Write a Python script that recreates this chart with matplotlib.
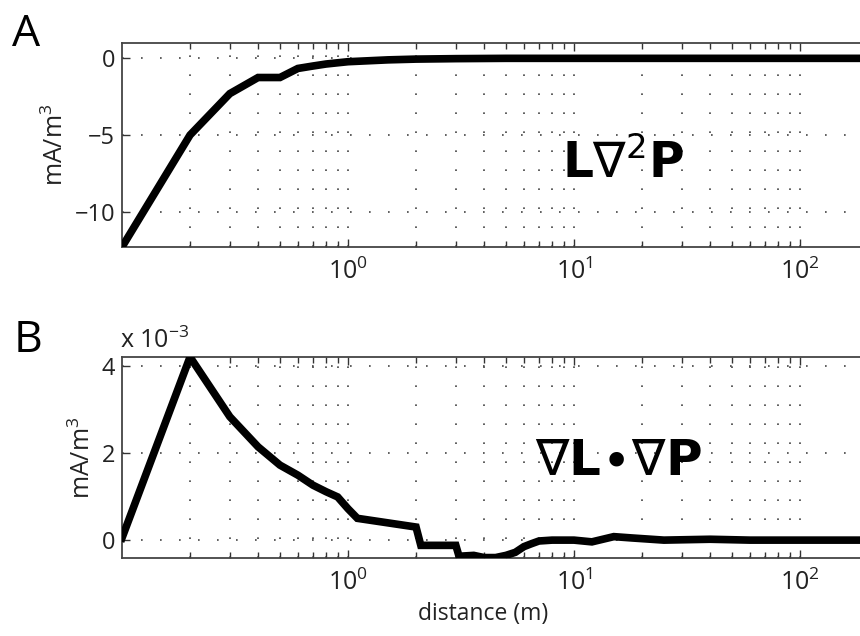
import matplotlib
matplotlib.use("Agg")
import matplotlib.pyplot as plt
from matplotlib.ticker import FixedLocator, LogFormatterSciNotation, NullFormatter

plt.rcParams['font.family'] = ['Open Sans', 'DejaVu Sans']
plt.rcParams['mathtext.fontset'] = 'dejavusans'

# panel A: L * laplacian(P)
xa = [0.1, 0.2, 0.3, 0.4, 0.5, 0.6, 0.7, 0.8, 0.9, 1.0, 1.5, 2.0, 3.0, 5.0,
      10, 20, 50, 100, 200, 500, 1000]
ya = [-12.3, -5.0, -2.3, -1.25, -1.25, -0.66, -0.5, -0.37, -0.29, -0.22,
      -0.1, -0.05, -0.02, 0, 0, 0, 0, 0, 0, 0, 0]

# panel B: grad L . grad P  (units of 1e-3)
xb = [0.1, 0.2, 0.3, 0.4, 0.5, 0.6, 0.7, 0.8, 0.9, 1.0, 1.1, 2.0, 2.1, 3.0,
      3.1, 3.6, 4.0, 4.5, 5.0, 5.5, 6.0, 6.5, 7.0, 8.0, 10, 12, 15, 18, 25,
      40, 60, 100, 200, 500, 1000]
yb = [0.05, 4.2, 2.83, 2.14, 1.72, 1.49, 1.26, 1.11, 0.99, 0.72, 0.5, 0.3,
      -0.12, -0.12, -0.37, -0.35, -0.4, -0.4, -0.35, -0.28, -0.15, -0.08,
      -0.02, 0.0, 0.0, -0.04, 0.08, 0.05, 0.0, 0.02, 0.0, 0.0, 0.0, 0.0, 0.0]

x_ticks = [1, 10, 100]

W, H = 860, 636
fig = plt.figure(figsize=(W / 100, H / 100), dpi=100)

left = 122 / W
width = 904 / W  # four decades, right edge falls outside the picture
ax_a = fig.add_axes([left, 1 - 247 / H, width, 204 / H])
ax_b = fig.add_axes([left, 1 - 558 / H, width, 201 / H])

grid_style = dict(color='#444444', linestyle=(0, (1, 10.4)), linewidth=1.2)
minors = [m * 10 ** e for e in (-1, 0, 1, 2) for m in range(2, 10)]

for ax, x, y in ((ax_a, xa, ya), (ax_b, xb, yb)):
    ax.plot(x, y, color='black', linewidth=5.5, solid_joinstyle='miter', zorder=3)
    ax.set_xscale('log')
    ax.set_xlim(0.1, 1000)
    ax.xaxis.set_major_locator(FixedLocator(x_ticks))
    ax.xaxis.set_major_formatter(LogFormatterSciNotation())
    ax.xaxis.set_minor_locator(FixedLocator(minors))
    ax.xaxis.set_minor_formatter(NullFormatter())
    ax.grid(True, which='both', axis='x', **grid_style)
    ax.grid(True, which='major', axis='y', **grid_style)
    ax.set_axisbelow(True)
    ax.tick_params(which='both', direction='in', top=True, right=True,
                   color='#333333', width=1.0, labelcolor='#222222')
    ax.tick_params(which='major', length=6)
    ax.tick_params(which='minor', length=4)
    ax.tick_params(axis='x', labelsize=18, pad=8)
    ax.tick_params(axis='y', labelsize=17, pad=5)
    for s in ax.spines.values():
        s.set_color('#444444')
        s.set_linewidth(1.3)
    ax.set_ylabel('mA/m$^{\\mathdefault{3}}$', fontsize=18, color='#222222', labelpad=4)

ax_a.set_ylim(-12.3, 1.0)
ax_a.set_yticks([-10, -5, 0])
ax_b.set_ylim(-0.41, 4.2)
ax_b.set_yticks([0, 2, 4])

ax_b.set_xlabel('distance (m)', fontsize=16.5, color='#222222')
ax_b.xaxis.set_label_coords((483 - 122) / 904, -0.22)

fig.text(12 / W, 1 - 46 / H, 'A', fontsize=32, va='baseline', ha='left')
fig.text(14 / W, 1 - 352 / H, 'B', fontsize=32, va='baseline', ha='left')
fig.text(120 / W, 1 - 348 / H, 'x 10$^{\\mathdefault{-3}}$', fontsize=18,
         va='baseline', ha='left', color='#222222')

fig.text(562 / W, 1 - 178 / H, r'$\mathbf{L}\nabla^{2}\mathbf{P}$',
         fontsize=35, va='baseline', ha='left')
fig.text(535 / W, 1 - 475 / H, r'$\nabla\mathbf{L}{\bullet}\nabla\mathbf{P}$',
         fontsize=36, va='baseline', ha='left')

fig.savefig('out.png', dpi=100)
